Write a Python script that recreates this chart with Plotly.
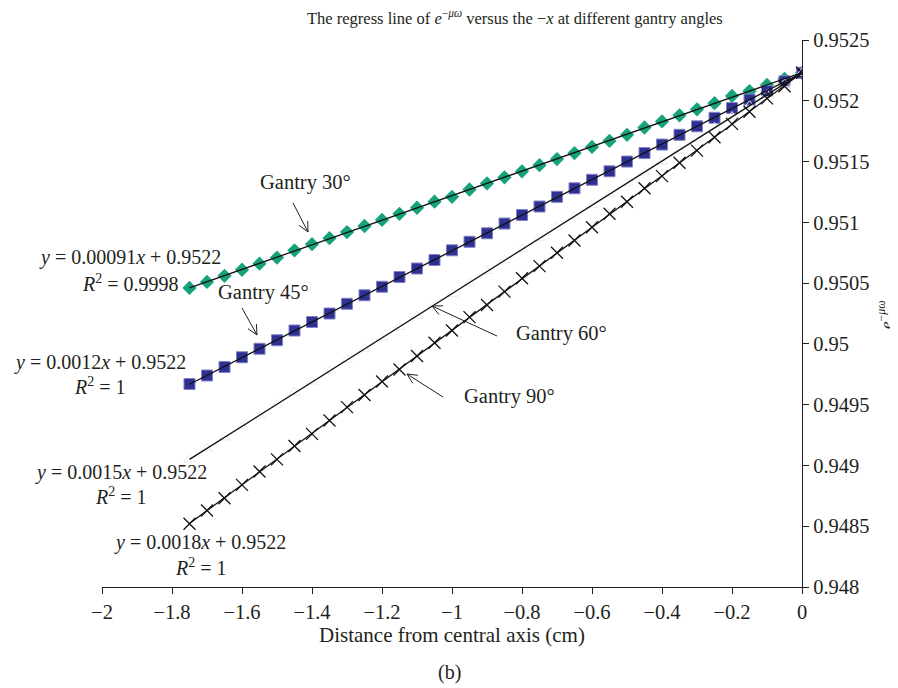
import math
import numpy as np
import plotly.graph_objects as go

# ---------------- data ----------------
x_cm = [-1.75, -1.70, -1.65, -1.60, -1.55, -1.50, -1.45, -1.40, -1.35, -1.30,
        -1.25, -1.20, -1.15, -1.10, -1.05, -1.00, -0.95, -0.90, -0.85, -0.80,
        -0.75, -0.70, -0.65, -0.60, -0.55, -0.50, -0.45, -0.40, -0.35, -0.30,
        -0.25, -0.20, -0.15, -0.10, -0.05, 0.00]

gantry30 = [0.95046, 0.95051, 0.95056, 0.95061, 0.95066, 0.95071, 0.95077, 0.95082,
            0.95087, 0.95092, 0.95097, 0.95102, 0.95107, 0.95112, 0.95117, 0.95121,
            0.95127, 0.95132, 0.95137, 0.95142, 0.95147, 0.95152, 0.95157, 0.95162,
            0.95167, 0.95172, 0.95178, 0.95183, 0.95188, 0.95193, 0.95198, 0.95204,
            0.95208, 0.95213, 0.95218, 0.95223]

gantry45 = [0.94967, 0.94974, 0.94981, 0.94989, 0.94996, 0.95003, 0.95011, 0.95018,
            0.95025, 0.95033, 0.95040, 0.95047, 0.95055, 0.95062, 0.95069, 0.95077,
            0.95084, 0.95091, 0.95099, 0.95106, 0.95113, 0.95121, 0.95128, 0.95135,
            0.95142, 0.95150, 0.95157, 0.95164, 0.95172, 0.95179, 0.95186, 0.95194,
            0.95201, 0.95208, 0.95216, 0.95223]

gantry60 = [0.94905, 0.94914, 0.94923, 0.94932, 0.94941, 0.94950, 0.94960, 0.94969,
            0.94978, 0.94987, 0.94996, 0.95005, 0.95014, 0.95023, 0.95032, 0.95041,
            0.95050, 0.95060, 0.95069, 0.95078, 0.95087, 0.95096, 0.95105, 0.95114,
            0.95123, 0.95132, 0.95141, 0.95150, 0.95159, 0.95169, 0.95178, 0.95187,
            0.95196, 0.95205, 0.95214, 0.95223]

gantry90 = [0.94852, 0.94863, 0.94873, 0.94884, 0.94895, 0.94905, 0.94916, 0.94926,
            0.94937, 0.94948, 0.94958, 0.94969, 0.94979, 0.94990, 0.95001, 0.95011,
            0.95022, 0.95032, 0.95043, 0.95054, 0.95064, 0.95075, 0.95085, 0.95096,
            0.95107, 0.95117, 0.95128, 0.95138, 0.95149, 0.95159, 0.95170, 0.95181,
            0.95191, 0.95202, 0.95212, 0.95223]

x_ticks = [-2.0, -1.8, -1.6, -1.4, -1.2, -1.0, -0.8, -0.6, -0.4, -0.2, 0.0]
x_tick_text = ["\u22122", "\u22121.8", "\u22121.6", "\u22121.4", "\u22121.2", "\u22121",
               "\u22120.8", "\u22120.6", "\u22120.4", "\u22120.2", "0"]
y_ticks = [0.948, 0.9485, 0.949, 0.9495, 0.95, 0.9505, 0.951, 0.9515, 0.952, 0.9525]
y_tick_text = ["0.948", "0.9485", "0.949", "0.9495", "0.95", "0.9505", "0.951",
               "0.9515", "0.952", "0.9525"]

# ---------------- layout geometry ----------------
# page has an 8px body margin, so the figure is drawn 8px smaller
W, H = 890, 680
ML, MR, MT, MB = 94, 96, 32, 101
# plot area in screen pixels
SL, SR, ST, SB = 102, 802, 40, 587

def pxx(px):
    return (px - SL) / (SR - SL)

def pxy(py):
    return (SB - py) / (SB - ST)

FONT = "Liberation Serif"
TXT = "#231f20"

fig = go.Figure()

fig.add_trace(go.Scatter(x=x_cm, y=gantry30, mode="markers", name="Gantry 30°",
                         marker=dict(symbol="diamond", size=11, color="#16a37c",
                                     line=dict(width=0))))
fig.add_trace(go.Scatter(x=x_cm, y=gantry45, mode="markers", name="Gantry 45°",
                         marker=dict(symbol="square", size=11, color="#2e3192",
                                     line=dict(width=1, color="#8083c6"))))
fig.add_trace(go.Scatter(x=x_cm, y=gantry60, mode="markers", name="Gantry 60°",
                         marker=dict(symbol="triangle-up-open", size=10, color="#ececec",
                                     line=dict(width=1, color="#ececec"))))
fig.add_trace(go.Scatter(x=x_cm, y=gantry90, mode="markers", name="Gantry 90°",
                         marker=dict(symbol="x-thin", size=12, color="#111111",
                                     line=dict(width=1.3, color="#111111"))))

# linear trendlines
xa = np.array(x_cm)
for ys in (gantry30, gantry45, gantry60, gantry90):
    k, b = np.polyfit(xa, np.array(ys), 1)
    xe = [x_cm[0], x_cm[-1]]
    fig.add_trace(go.Scatter(x=xe, y=[k * v + b for v in xe], mode="lines",
                             line=dict(color="#111111", width=1.3),
                             hoverinfo="skip"))

annotations = []
shapes = []

def text(px, py, t, size=20, xanchor="center", angle=0):
    annotations.append(dict(x=pxx(px), y=pxy(py), xref="paper", yref="paper",
                            text=t, showarrow=False, xanchor=xanchor,
                            yanchor="middle", textangle=angle,
                            font=dict(family=FONT, size=size, color=TXT)))

def arrow(sx, sy, tx, ty):
    shapes.append(dict(type="line", xref="paper", yref="paper",
                       x0=pxx(sx), y0=pxy(sy), x1=pxx(tx), y1=pxy(ty),
                       line=dict(color=TXT, width=1)))
    ang = math.atan2(sy - ty, sx - tx)
    for d in (0.45, -0.45):
        hx = tx + 11 * math.cos(ang + d)
        hy = ty + 11 * math.sin(ang + d)
        shapes.append(dict(type="line", xref="paper", yref="paper",
                           x0=pxx(tx), y0=pxy(ty), x1=pxx(hx), y1=pxy(hy),
                           line=dict(color=TXT, width=1)))

# equations
text(223, 258, "<i>y</i> = 0.00091<i>x</i> + 0.9522", xanchor="right")
text(181, 283, "<i>R</i><sup>2</sup> = 0.9998", xanchor="right")
text(188, 362, "<i>y</i> = 0.0012<i>x</i> + 0.9522", xanchor="right")
text(100, 386, "<i>R</i><sup>2</sup> = 1")
text(209, 472, "<i>y</i> = 0.0015<i>x</i> + 0.9522", xanchor="right")
text(121, 496, "<i>R</i><sup>2</sup> = 1")
text(288, 542, "<i>y</i> = 0.0018<i>x</i> + 0.9522", xanchor="right")
text(201, 567, "<i>R</i><sup>2</sup> = 1")

# gantry labels
text(305, 182, "Gantry 30°", size=20.5)
arrow(293, 203, 308, 232)
text(263, 292, "Gantry 45°", size=20.5)
arrow(242, 308, 257, 335)
text(561, 333, "Gantry 60°", size=20.5)
arrow(497, 336, 432, 306)
text(509, 397, "Gantry 90°", size=20.5)
arrow(443, 397, 407, 374)

# titles
text(515, 18, "The regress line of <i>e</i><sup>\u2212<i>\u03bc\u03c9</i></sup> versus the \u2212<i>x</i> at different gantry angles", size=16.5)
text(452, 635, "Distance from central axis (cm)", size=21)
text(449, 672, "(b)", size=20)
text(885, 315, "<i>e</i><sup>\u2212<i>\u03bc\u03c9</i></sup>", size=17, angle=-90)

fig.update_layout(
    width=W, height=H,
    margin=dict(l=ML, r=MR, t=MT, b=MB),
    paper_bgcolor="white", plot_bgcolor="white",
    showlegend=False,
    annotations=annotations, shapes=shapes,
    font=dict(family=FONT, size=20, color=TXT),
    xaxis=dict(range=[-2, 0], tickvals=x_ticks, ticktext=x_tick_text,
               showgrid=False, zeroline=False, showline=True, linecolor=TXT,
               linewidth=1.2, ticks="outside", ticklen=6, tickcolor=TXT,
               tickwidth=1.2, tickfont=dict(family=FONT, size=20.5, color=TXT)),
    yaxis=dict(range=[0.948, 0.9525], tickvals=y_ticks, ticktext=y_tick_text,
               side="right", showgrid=False, zeroline=False, showline=True,
               linecolor=TXT, linewidth=1.2, ticks="outside", ticklen=6,
               tickcolor=TXT, tickwidth=1.2,
               tickfont=dict(family=FONT, size=20.5, color=TXT)),
)

fig.write_html("out.html")
